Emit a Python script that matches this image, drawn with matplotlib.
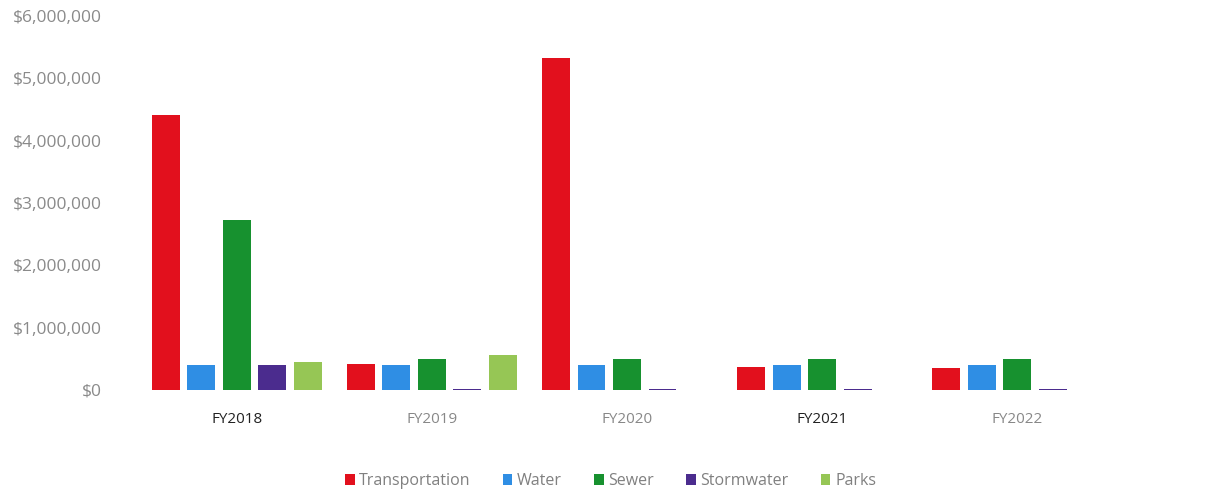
import matplotlib.pyplot as plt
import numpy as np
from matplotlib.ticker import FuncFormatter

plt.rcParams['font.family'] = ['Open Sans', 'DejaVu Sans']

years = ["FY2018", "FY2019", "FY2020", "FY2021", "FY2022"]
transportation = [4410000, 420000, 5330000, 370000, 360000]
water = [400000, 400000, 400000, 400000, 400000]
sewer = [2730000, 500000, 500000, 500000, 500000]
stormwater = [400000, 15000, 15000, 15000, 15000]
parks = [450000, 560000, 0, 0, 0]

series = [
    ("Transportation", transportation, "#e2101d"),
    ("Water", water, "#2f8ee4"),
    ("Sewer", sewer, "#17912f"),
    ("Stormwater", stormwater, "#4b2c8e"),
    ("Parks", parks, "#96c655"),
]

fig = plt.figure(figsize=(12.21, 4.93), dpi=100)
ax = fig.add_axes([0.114, 0.209, 0.799, 0.7585])

x = np.arange(len(years))
pitch = 0.182
width = 0.143
for i, (name, vals, color) in enumerate(series):
    offs = (i - 2) * pitch
    ax.bar(x + offs, vals, width, color=color, label=name)

ax.set_xlim(-0.5, len(years) - 0.5)
ax.set_ylim(0, 6000000)
ax.set_yticks(np.arange(0, 6000001, 1000000))
ax.yaxis.set_major_formatter(FuncFormatter(lambda v, p: f"${v:,.0f}"))
ax.set_xticks(x)
ax.set_xticklabels(years)
for spine in ax.spines.values():
    spine.set_visible(False)
ax.tick_params(axis="both", length=0, colors="#8a8a8a")
ax.tick_params(axis="y", pad=27, labelsize=12.5)
ax.tick_params(axis="x", pad=16, labelsize=11)
for lbl, c in zip(ax.get_xticklabels(), ["#222222", "#888888", "#888888", "#222222", "#888888"]):
    lbl.set_color(c)

leg = fig.legend(loc="center", bbox_to_anchor=(0.5, 0.024), ncol=5, frameon=False,
                 fontsize=11.5, handlelength=0.6, handleheight=0.6, handletextpad=0.3,
                 columnspacing=2.0)
for t in leg.get_texts():
    t.set_color("#808080")

fig.savefig("out.png", dpi=100)
